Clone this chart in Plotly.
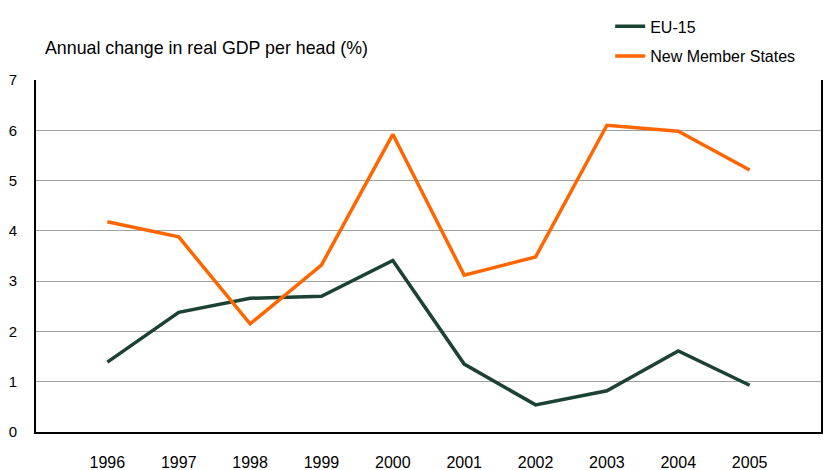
import plotly.graph_objects as go

years = ["1996", "1997", "1998", "1999", "2000", "2001", "2002", "2003", "2004", "2005"]
eu15 = [1.39, 2.38, 2.66, 2.70, 3.41, 1.35, 0.54, 0.82, 1.61, 0.93]
nms = [4.18, 3.88, 2.15, 3.32, 5.92, 3.12, 3.48, 6.10, 5.98, 5.21]
y_ticks = [0, 1, 2, 3, 4, 5, 6, 7]

FONT = "Liberation Sans, Arial, sans-serif"
fig = go.Figure()
fig.add_trace(go.Scatter(x=years, y=eu15, mode="lines", name="EU-15",
                         line=dict(color="#1b4233", width=3.5), legendgroup="a"))
fig.add_trace(go.Scatter(x=years, y=nms, mode="lines", name="New Member States",
                         line=dict(color="#ff6600", width=3.5), legendgroup="b"))

fig.update_layout(
    width=837, height=470,
    margin=dict(l=36, r=16, t=80, b=38, autoexpand=False),
    paper_bgcolor="white", plot_bgcolor="white",
    font=dict(family=FONT, size=16, color="black"),
    showlegend=True,
    legend=dict(xref="container", yref="container", x=0.729, y=0.98,
                xanchor="left", yanchor="top",
                tracegroupgap=6, font=dict(size=16), bgcolor="rgba(0,0,0,0)"),
    xaxis=dict(type="category", range=[-1, 10], showgrid=False, automargin=False,
               showline=True, linecolor="black", linewidth=2,
               ticks="", ticklabelstandoff=15, tickfont=dict(size=16)),
    yaxis=dict(range=[0, 7], tickvals=y_ticks, showgrid=True, gridcolor="#a0a0a0",
               gridwidth=1, showline=True, mirror=True, linecolor="black", linewidth=2,
               automargin=False,
               ticks="", ticklabelstandoff=14, zeroline=False, tickfont=dict(size=15)),
    annotations=[dict(text="Annual change in real GDP per head (%)", xref="paper", yref="paper",
                      x=0.009, y=1.091, xanchor="left", yanchor="middle", showarrow=False,
                      font=dict(size=17.8))],
)
fig.write_html("out.html", config={"displayModeBar": False},
               post_script="document.body.style.margin='0';")
